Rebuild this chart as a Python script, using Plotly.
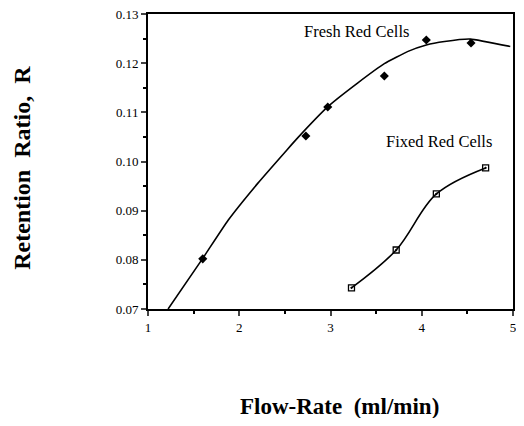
import plotly.graph_objects as go

# Measured data points
fresh_x = [1.60, 2.73, 2.97, 3.59, 4.05, 4.54]
fresh_y = [0.0802, 0.1052, 0.1111, 0.1174, 0.1247, 0.1241]

fixed_x = [3.23, 3.72, 4.16, 4.70]
fixed_y = [0.0743, 0.0820, 0.0934, 0.0987]

# Fitted curve for fresh red cells
fit_x = [1.22, 1.60, 1.88, 2.20, 2.52, 2.63, 2.98, 3.30, 3.59, 3.85, 4.05, 4.25, 4.53, 4.97]
fit_y = [0.0700, 0.0803, 0.0881, 0.0955, 0.1023, 0.1046, 0.1113, 0.1160, 0.1199, 0.1224, 0.1237, 0.1244, 0.1249, 0.1234]

x_ticks = [1, 2, 3, 4, 5]
y_ticks = [0.07, 0.08, 0.09, 0.10, 0.11, 0.12, 0.13]
y_tick_labels = ["0.07", "0.08", "0.09", "0.10", "0.11", "0.12", "0.13"]

serif = "Liberation Serif"

fig = go.Figure()
fig.add_trace(go.Scatter(x=fit_x, y=fit_y, mode="lines",
                         line=dict(color="black", width=1.6, shape="spline", smoothing=0.4),
                         showlegend=False, hoverinfo="skip"))
fig.add_trace(go.Scatter(x=fresh_x, y=fresh_y, mode="markers",
                         marker=dict(symbol="diamond", size=7, color="black"),
                         showlegend=False))
fig.add_trace(go.Scatter(x=fixed_x, y=fixed_y, mode="lines+markers",
                         line=dict(color="black", width=1.6, shape="spline", smoothing=1.0),
                         marker=dict(symbol="square-open-dot", size=6, color="black",
                                     line=dict(width=1.3, color="black")),
                         showlegend=False))

fig.update_layout(
    width=508, height=410,
    margin=dict(l=140, r=3, t=6, b=109),
    paper_bgcolor="white", plot_bgcolor="white",
    font=dict(family=serif, color="black", size=13),
    xaxis=dict(range=[1, 5], tickvals=x_ticks, ticks="outside", ticklen=5,
               tickwidth=1.5, showline=True, linewidth=2, linecolor="black",
               mirror=True, showgrid=False, zeroline=False, automargin=False,
               ticklabeloverflow="allow",
               tickfont=dict(family=serif, size=13),
               minor=dict(dtick=0.5, ticks="outside", ticklen=3, tickcolor="black")),
    yaxis=dict(range=[0.07, 0.13], tickvals=y_ticks, ticktext=y_tick_labels,
               ticks="outside", ticklen=5, tickwidth=1.5, showline=True,
               linewidth=2, linecolor="black", mirror=True, showgrid=False,
               zeroline=False, automargin=False, ticklabeloverflow="allow",
               tickfont=dict(family=serif, size=13),
               minor=dict(dtick=0.005, ticks="outside", ticklen=3, tickcolor="black")),
    annotations=[
        dict(x=3.28, y=0.1265, xref="x", yref="y", text="Fresh Red Cells",
             showarrow=False, xanchor="center", yanchor="middle",
             font=dict(family=serif, size=16.5)),
        dict(x=4.19, y=0.1040, xref="x", yref="y", text="Fixed Red Cells",
             showarrow=False, xanchor="center", yanchor="middle",
             font=dict(family=serif, size=16.5)),
        dict(x=-0.344, y=0.48, xref="paper", yref="paper", text="<b>Retention  Ratio,  R</b>",
             textangle=-90, showarrow=False, xanchor="center", yanchor="middle",
             font=dict(family=serif, size=24)),
        dict(x=0.525, y=-0.329, xref="paper", yref="paper", text="<b>Flow-Rate  (ml/min)</b>",
             showarrow=False, xanchor="center", yanchor="middle",
             font=dict(family=serif, size=23)),
    ],
)

fig.write_html("out.html")
